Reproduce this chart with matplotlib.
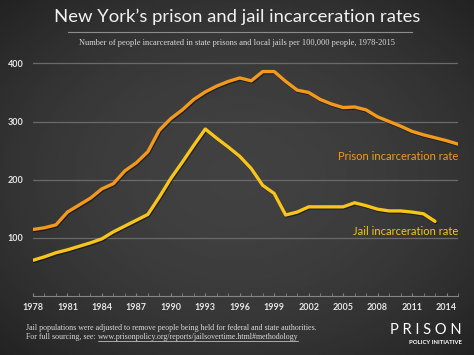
import numpy as np
import matplotlib
matplotlib.use("Agg")
import matplotlib.pyplot as plt
import matplotlib.patheffects as pe

# Data (per 100,000 people)
years = list(range(1978, 2016))
prison = [114, 117, 122, 144, 156, 168, 184, 193, 215, 229, 248, 285, 305, 320,
          338, 351, 361, 369, 375, 370, 386, 386, 369, 354, 350, 338, 330, 324,
          325, 320, 308, 300, 292, 283, 277, 272, 267, 261]
jail_years = list(range(1978, 2014))
jail = [61, 67, 74, 79, 85, 91, 98, 110, 120, 130, 140, 170, 202, 230, 259, 287,
        271, 256, 240, 219, 190, 176, 139, 144, 153, 153, 153, 153, 160, 155,
        149, 146, 146, 144, 141, 128]

xticks = list(range(1978, 2015, 3))
yticks = [100, 200, 300, 400]

PRISON_C = '#f39a1e'
JAIL_C = '#f7c51b'
BG = '#393939'
GRID = '#6a6a6a'
TXT = '#e6e6e6'

fig = plt.figure(figsize=(4.74, 3.55), dpi=100, facecolor=BG)

# soft vignette background
bg = fig.add_axes([0, 0, 1, 1], zorder=-10)
yy, xx = np.mgrid[-1:1:200j, -1:1:200j]
vign = np.clip(np.sqrt(xx ** 2 + yy ** 2), 0, 1.45)
shade = 0.255 - 0.06 * vign ** 2
bg.imshow(shade, cmap='gray', vmin=0, vmax=1, aspect='auto', extent=[0, 1, 0, 1])
bg.axis('off')

ax = fig.add_axes([33 / 474, 0.167, (458 - 33) / 474, 0.687])
ax.set_facecolor('none')

shadow = [pe.SimpleLineShadow(offset=(0.6, -0.8), shadow_color='black', alpha=0.5),
          pe.Normal()]
ax.plot(years, prison, color=PRISON_C, lw=2.4, solid_capstyle='round',
        solid_joinstyle='round', path_effects=shadow, zorder=3)
ax.plot(jail_years, jail, color=JAIL_C, lw=2.4, solid_capstyle='round',
        solid_joinstyle='round', path_effects=shadow, zorder=3)

ax.set_xlim(1978, 2015)
ax.set_ylim(0, 420)
ax.set_yticks(yticks)
ax.set_xticks(xticks)
ax.set_xticks(years, minor=True)
ax.grid(axis='y', color=GRID, lw=0.9)
ax.set_axisbelow(True)
for s in ['top', 'right', 'left']:
    ax.spines[s].set_visible(False)
ax.spines['bottom'].set_color('#858585')
ax.spines['bottom'].set_linewidth(0.8)
ax.tick_params(axis='y', length=0, colors=TXT, labelsize=6.5, pad=7)
ax.tick_params(axis='x', which='both', direction='in', length=2, color='#858585',
               colors=TXT, labelsize=6.5, pad=5)
for lab in ax.get_xticklabels() + ax.get_yticklabels():
    lab.set_family('Lato')
    lab.set_fontweight('bold')
    lab.set_color(TXT)

ax.text(2015, 239, 'Prison incarceration rate', color=PRISON_C, fontsize=8,
        family='Lato', ha='right', va='center')
ax.text(2015, 110, 'Jail incarceration rate', color=JAIL_C, fontsize=8,
        family='Lato', ha='right', va='center')

# title block
fig.text(0.5, 1 - 17 / 355, "New York\u2019s prison and jail incarceration rates",
         color='#f2f2f2', fontsize=13.3, family='Lato', ha='center', va='center')
fig.add_artist(plt.Line2D([68 / 474, 412 / 474], [1 - 32 / 355] * 2,
                          color='#8c8c8c', lw=0.8))
fig.text(0.5, 1 - 43 / 355,
         'Number of people incarcerated in state prisons and local jails per 100,000 people, 1978-2015',
         color='#dcdcdc', fontsize=6, family='Liberation Serif', ha='center', va='center')

# footer
fig.text(26 / 474, 1 - 328 / 355,
         'Jail populations were adjusted to remove people being held for federal and state authorities.',
         color='#dcdcdc', fontsize=5.7, family='Liberation Serif', va='center')
f2 = fig.text(26 / 474, 1 - 337 / 355, 'For full sourcing, see: ',
              color='#dcdcdc', fontsize=5.7, family='Liberation Serif', va='center')
fig.canvas.draw()
r = fig.canvas.get_renderer()
bb = f2.get_window_extent(r)
x0 = bb.x1 / fig.bbox.width
link = fig.text(x0, 1 - 337 / 355, 'www.prisonpolicy.org/reports/jailsovertime.html#methodology',
                color='#dcdcdc', fontsize=5.7, family='Liberation Serif', va='center')
fig.canvas.draw()
lb = link.get_window_extent(r)
fig.add_artist(plt.Line2D([lb.x0 / fig.bbox.width, lb.x1 / fig.bbox.width],
                          [(lb.y0 + 0.5) / fig.bbox.height] * 2, color='#dcdcdc', lw=0.5))

# logo
fig.text(462 / 474, 1 - 330 / 355, 'P R I S O N', color='white', fontsize=10.5,
         family='Lato', ha='right', va='center')
fig.text(462 / 474, 1 - 342 / 355, 'POLICY INITIATIVE', color='white', fontsize=4.3,
         family='Lato', fontweight='bold', ha='right', va='center')

fig.savefig('out.png', dpi=100, facecolor=BG)
